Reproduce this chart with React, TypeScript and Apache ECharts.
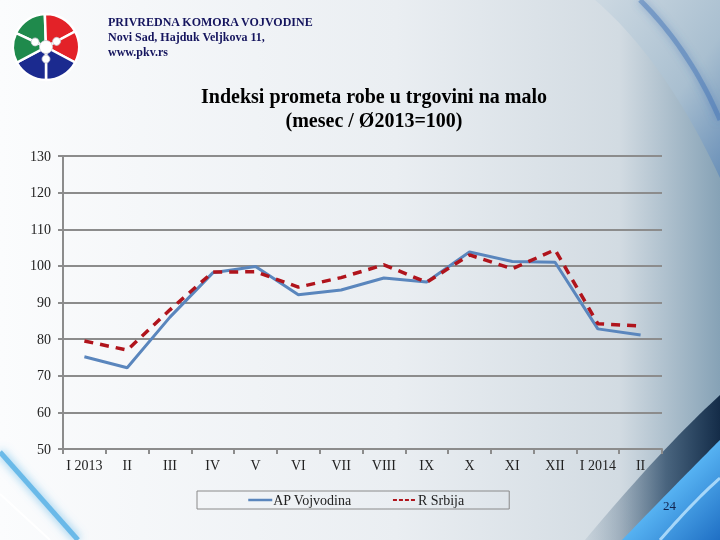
import React, { useEffect, useRef } from "react";
import * as echarts from "echarts";

const categories = ["I 2013", "II", "III", "IV", "V", "VI", "VII", "VIII", "IX", "X", "XI", "XII", "I 2014", "II"];
const apVojvodina = [75.2, 72.2, 86.0, 98.1, 99.8, 92.1, 93.4, 96.7, 95.6, 103.8, 101.2, 101.0, 82.8, 81.1];
const rSrbija = [79.5, 77.0, 88.0, 98.3, 98.4, 94.2, 96.8, 100.3, 95.5, 103.0, 99.2, 104.4, 84.2, 83.6];
const seriesNames = ["AP Vojvodina", "R Srbija"];
const headerLines = ["PRIVREDNA KOMORA VOJVODINE", "Novi Sad, Hajduk Veljkova 11,", "www.pkv.rs"];
const titleLines = ["Indeksi prometa robe u trgovini na malo", "(mesec / Ø2013=100)"];

const SERIF = "'Liberation Serif', 'Times New Roman', serif";

function curvePoints(p0: number[], c: number[], p1: number[], n = 24): number[][] {
  const pts: number[][] = [];
  for (let i = 0; i <= n; i++) {
    const t = i / n;
    const a = (1 - t) * (1 - t), b = 2 * (1 - t) * t, d = t * t;
    pts.push([a * p0[0] + b * c[0] + d * p1[0], a * p0[1] + b * c[1] + d * p1[1]]);
  }
  return pts;
}

function logo(): any[] {
  const cx = 46, cy = 47, r = 33;
  const deg = Math.PI / 180;
  const segs = [
    { s: -155, e: -92, c: "#1f8a4c" },
    { s: -92, e: -28, c: "#e32228" },
    { s: -28, e: 28, c: "#e32228" },
    { s: 28, e: 90, c: "#1b2a8f" },
    { s: 90, e: 152, c: "#1b2a8f" },
    { s: 152, e: 205, c: "#1f8a4c" },
  ];
  const els: any[] = segs.map((g) => ({
    type: "sector",
    shape: { cx, cy, r, r0: 0, startAngle: g.s * deg, endAngle: g.e * deg, clockwise: true },
    style: { fill: g.c, stroke: "#ffffff", lineWidth: 2.5 },
    z: 5,
  }));
  [-155, -28, 90].forEach((a) => {
    const x = cx + 12 * Math.cos(a * deg), y = cy + 12 * Math.sin(a * deg);
    els.push({ type: "line", shape: { x1: cx, y1: cy, x2: x, y2: y }, style: { stroke: "#ffffff", lineWidth: 2.5 }, z: 6 });
    els.push({ type: "circle", shape: { cx: x, cy: y, r: 4 }, style: { fill: "#ffffff", stroke: "#c8c8d0", lineWidth: 0.8 }, z: 7 });
  });
  els.push({ type: "circle", shape: { cx, cy, r: 6.5 }, style: { fill: "#ffffff", stroke: "#c8c8d0", lineWidth: 0.8 }, z: 7 });
  return els;
}

function background(): any[] {
  const els: any[] = [];
  els.push({
    type: "rect",
    shape: { x: 0, y: 0, width: 720, height: 540 },
    style: {
      fill: new echarts.graphic.LinearGradient(0, 0, 1, 0, [
        { offset: 0, color: "#fbfcfd" },
        { offset: 0.55, color: "#eaeef2" },
        { offset: 0.86, color: "#d2dbe2" },
        { offset: 1, color: "#86a2b6" },
      ]),
    },
    z: -20,
  });
  const topCurve = curvePoints([595, 0], [665, 60], [720, 178]);
  els.push({
    type: "polygon",
    shape: { points: [...topCurve, [720, 0]] },
    style: {
      fill: new echarts.graphic.LinearGradient(0, 0, 1, 1, [
        { offset: 0, color: "#cdd9e2" },
        { offset: 0.6, color: "#a9bfd0" },
        { offset: 1, color: "#6a90b8" },
      ]),
    },
    z: -19,
  });
  els.push({
    type: "polyline",
    shape: { points: curvePoints([640, 0], [690, 50], [720, 120]) },
    style: { stroke: "#3f72b5", lineWidth: 5, opacity: 0.45, shadowBlur: 8, shadowColor: "#3f72b5" },
    z: -18,
  });
  const darkCurve = curvePoints([585, 540], [660, 450], [720, 395]);
  els.push({
    type: "polygon",
    shape: { points: [...darkCurve, [720, 540]] },
    style: {
      fill: new echarts.graphic.LinearGradient(0, 0, 1, 0, [
        { offset: 0, color: "rgba(120,145,165,0.15)" },
        { offset: 0.6, color: "rgba(40,70,100,0.75)" },
        { offset: 1, color: "#142c48" },
      ]),
    },
    z: -17,
  });
  const blueCurve = curvePoints([622, 540], [680, 480], [720, 440]);
  els.push({
    type: "polygon",
    shape: { points: [...blueCurve, [720, 540]] },
    style: {
      fill: new echarts.graphic.LinearGradient(0, 0, 1, 1, [
        { offset: 0, color: "#2f8ee0" },
        { offset: 0.5, color: "#56b2f2" },
        { offset: 1, color: "#1f6fc4" },
      ]),
    },
    z: -16,
  });
  els.push({
    type: "polyline",
    shape: { points: curvePoints([660, 540], [695, 500], [720, 478]) },
    style: { stroke: "#bfe6ff", lineWidth: 3, opacity: 0.8 },
    z: -15,
  });
  els.push({
    type: "line",
    shape: { x1: 0, y1: 452, x2: 78, y2: 540 },
    style: { stroke: "#5ab3e6", lineWidth: 5, opacity: 0.85, shadowBlur: 10, shadowColor: "#5ab3e6" },
    z: -15,
  });
  els.push({
    type: "line",
    shape: { x1: 0, y1: 494, x2: 50, y2: 540 },
    style: { stroke: "#ffffff", lineWidth: 2 },
    z: -15,
  });
  return els;
}

export default function App() {
  const ref = useRef<HTMLDivElement>(null);
  useEffect(() => {
    if (!ref.current) return;
    const chart = echarts.init(ref.current, null, { renderer: "svg" });
    const header = headerLines.map((t, i) => ({
      type: "text",
      left: 108,
      top: 16 + i * 15,
      style: { text: t, font: `bold 12px ${SERIF}`, fill: "#15155e" },
      z: 5,
    }));
    chart.setOption({
      animation: false,
      backgroundColor: "transparent",
      title: {
        text: titleLines.join("\n"),
        left: 369,
        top: 79,
        textAlign: "center",
        textStyle: { fontFamily: SERIF, fontSize: 20, fontWeight: "bold", color: "#000000", lineHeight: 24 },
      },
      graphic: [
        ...background(),
        ...logo(),
        ...header,
        {
          type: "text",
          left: 663,
          top: 499,
          style: { text: "24", font: `13px ${SERIF}`, fill: "#12244f" },
          z: 5,
        },
      ],
      legend: {
        data: [
          { name: seriesNames[0], itemStyle: { opacity: 0 }, lineStyle: { width: 2.5, color: "#5a86bd" } },
          { name: seriesNames[1], itemStyle: { opacity: 0 }, lineStyle: { width: 2, color: "#b0141c", type: [4, 2] } },
        ],
        left: 197,
        top: 491,
        padding: [2, 45, 2, 50],
        itemGap: 40,
        itemWidth: 24,
        itemHeight: 12,
        borderColor: "#8a8a8a",
        borderWidth: 1,
        textStyle: { fontFamily: SERIF, fontSize: 14, color: "#222222", padding: [0, 0, 0, -4] },
      },
      grid: { left: 63, right: 58, top: 156, bottom: 91, containLabel: false },
      xAxis: {
        type: "category",
        data: categories,
        boundaryGap: true,
        axisLine: { lineStyle: { color: "#8c8c8c", width: 2 } },
        axisTick: { show: true, length: 5, lineStyle: { color: "#8c8c8c", width: 2 } },
        axisLabel: { fontFamily: SERIF, fontSize: 14, color: "#222222", margin: 9, interval: 0 },
      },
      yAxis: {
        type: "value",
        min: 50,
        max: 130,
        interval: 10,
        axisLine: { show: true, lineStyle: { color: "#8c8c8c", width: 2 } },
        axisTick: { show: true, length: 5, lineStyle: { color: "#8c8c8c", width: 2 } },
        axisLabel: { fontFamily: SERIF, fontSize: 14, color: "#222222", margin: 12 },
        splitLine: { lineStyle: { color: "#8c8c8c", width: 2 } },
      },
      series: [
        {
          name: seriesNames[0],
          type: "line",
          data: apVojvodina,
          symbol: "none",
          lineStyle: { color: "#5a86bd", width: 3 },
          itemStyle: { color: "#5a86bd" },
          z: 3,
        },
        {
          name: seriesNames[1],
          type: "line",
          data: rSrbija,
          symbol: "none",
          lineStyle: { color: "#b0141c", width: 3.5, type: [9, 7] },
          itemStyle: { color: "#b0141c" },
          z: 4,
        },
      ],
    });
    return () => chart.dispose();
  }, []);
  return <div ref={ref} style={{ position: "fixed", left: 0, top: 0, width: 720, height: 540 }} />;
}
